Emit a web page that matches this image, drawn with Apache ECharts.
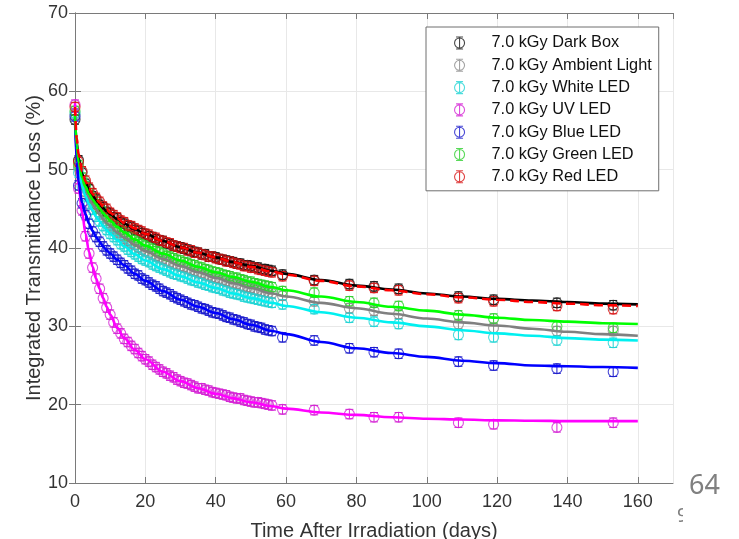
<!DOCTYPE html>
<html>
<head>
<meta charset="utf-8">
<title>Integrated Transmittance Loss vs Time After Irradiation</title>
<script src="https://cdn.jsdelivr.net/npm/echarts/dist/echarts.min.js"></script>
<style>
  html, body { margin: 0; padding: 0; background: #ffffff; }
  #chart { width: 739px; height: 539px; }
</style>
</head>
<body>
<div id="chart"></div>
<script>
// Measurement days (dense daily readings, then sparse follow-ups)
const days = [
  0, 1, 2, 3, 4, 5, 6, 7, 8, 9,
  10, 11, 12, 13, 14, 15, 16, 17, 18, 19,
  20, 21, 22, 23, 24, 25, 26, 27, 28, 29,
  30, 31, 32, 33, 34, 35, 36, 37, 38, 39,
  40, 41, 42, 43, 44, 45, 46, 47, 48, 49,
  50, 51, 52, 53, 54, 55, 56,
  59, 68, 78, 85, 92, 109, 119, 137, 153
];

// Measured integrated transmittance loss (%) per storage condition
const darkBox = [
  56.4, 51.2, 49.6, 48.2, 47.5, 46.6, 46.2, 45.5, 45.2, 44.6,
  44.4, 43.9, 43.8, 43.3, 43.1, 42.8, 42.7, 42.3, 42.2, 41.9,
  41.8, 41.5, 41.4, 41.1, 41.0, 40.9, 40.6, 40.5, 40.3, 40.2,
  40.1, 39.9, 39.8, 39.6, 39.5, 39.4, 39.2, 39.2, 38.9, 38.9,
  38.8, 38.6, 38.5, 38.4, 38.3, 38.2, 38.0, 38.0, 37.8, 37.8,
  37.7, 37.5, 37.5, 37.3, 37.3, 37.2, 37.1,
  36.6, 35.9, 35.4, 35.1, 34.8, 33.8, 33.4, 33.0, 32.7
];
const ambientLight = [
  57.0, 50.2, 48.6, 47.2, 46.5, 45.6, 45.0, 44.3, 43.8, 43.2,
  42.8, 42.4, 42.0, 41.6, 41.2, 40.9, 40.6, 40.4, 40.1, 39.8,
  39.6, 39.4, 39.2, 39.0, 38.8, 38.6, 38.4, 38.2, 38.0, 37.9,
  37.7, 37.6, 37.4, 37.2, 37.1, 36.9, 36.8, 36.6, 36.5, 36.3,
  36.2, 36.1, 35.9, 35.8, 35.6, 35.5, 35.4, 35.2, 35.1, 35.0,
  34.9, 34.7, 34.6, 34.5, 34.4, 34.3, 34.2,
  33.9, 33.2, 32.3, 32.0, 31.6, 30.3, 29.8, 29.4, 29.4
];
const whiteLed = [
  57.2, 49.6, 47.9, 46.6, 45.6, 44.9, 44.0, 43.4, 42.8, 42.3,
  41.8, 41.4, 41.0, 40.5, 40.2, 39.8, 39.5, 39.2, 38.9, 38.6,
  38.4, 38.2, 37.9, 37.7, 37.5, 37.3, 37.1, 36.9, 36.7, 36.6,
  36.4, 36.3, 36.1, 35.9, 35.8, 35.6, 35.5, 35.3, 35.2, 35.0,
  34.9, 34.8, 34.6, 34.5, 34.3, 34.2, 34.1, 34.0, 33.8, 33.7,
  33.6, 33.5, 33.4, 33.3, 33.2, 33.1, 33.0,
  32.8, 32.2, 31.1, 30.6, 30.3, 28.9, 28.6, 28.2, 27.9
];
const uvLed = [
  58.3, 47.6, 44.8, 41.5, 39.3, 37.5, 36.1, 34.8, 33.6, 32.4,
  31.5, 30.5, 29.7, 29.1, 28.4, 28.0, 27.5, 27.1, 26.6, 26.2,
  25.8, 25.5, 25.1, 24.8, 24.5, 24.2, 24.0, 23.7, 23.5, 23.2,
  23.0, 22.8, 22.7, 22.5, 22.3, 22.1, 22.1, 21.9, 21.8, 21.6,
  21.5, 21.4, 21.3, 21.2, 21.0, 20.9, 20.8, 20.8, 20.6, 20.5,
  20.4, 20.3, 20.3, 20.2, 20.1, 20.0, 19.9,
  19.4, 19.3, 18.8, 18.4, 18.4, 17.7, 17.5, 17.1, 17.7
];
const blueLed = [
  56.8, 48.0, 45.7, 44.2, 43.1, 42.1, 41.4, 40.8, 40.2, 39.7,
  39.3, 38.9, 38.5, 38.1, 37.8, 37.4, 37.1, 36.7, 36.5, 36.1,
  35.9, 35.6, 35.3, 35.1, 34.8, 34.5, 34.3, 34.1, 33.8, 33.6,
  33.4, 33.2, 33.0, 32.8, 32.7, 32.5, 32.3, 32.2, 32.0, 31.8,
  31.7, 31.6, 31.4, 31.2, 31.1, 30.9, 30.8, 30.6, 30.5, 30.3,
  30.2, 30.0, 29.9, 29.8, 29.6, 29.5, 29.4,
  28.6, 28.2, 27.2, 26.7, 26.5, 25.5, 25.0, 24.6, 24.2
];
const greenLed = [
  57.5, 50.6, 49.0, 47.9, 47.0, 46.3, 45.6, 45.0, 44.6, 44.0,
  43.5, 43.2, 42.7, 42.3, 42.0, 41.6, 41.4, 41.0, 40.8, 40.5,
  40.3, 40.1, 39.9, 39.6, 39.5, 39.3, 39.0, 38.9, 38.7, 38.5,
  38.4, 38.2, 38.1, 37.9, 37.8, 37.6, 37.5, 37.3, 37.2, 37.0,
  36.9, 36.8, 36.6, 36.5, 36.4, 36.2, 36.2, 36.0, 35.9, 35.7,
  35.7, 35.5, 35.4, 35.3, 35.2, 35.1, 35.0,
  34.5, 34.3, 33.2, 33.0, 32.6, 31.4, 31.0, 30.0, 29.8
];
const redLed = [
  58.0, 51.0, 49.8, 48.6, 47.7, 47.0, 46.4, 45.9, 45.3, 45.0,
  44.5, 44.2, 43.9, 43.5, 43.3, 42.9, 42.8, 42.5, 42.3, 42.1,
  41.8, 41.7, 41.4, 41.3, 41.0, 40.9, 40.7, 40.6, 40.3, 40.2,
  40.0, 40.0, 39.7, 39.7, 39.4, 39.4, 39.2, 39.1, 38.9, 38.9,
  38.7, 38.6, 38.5, 38.3, 38.3, 38.1, 38.0, 37.9, 37.7, 37.7,
  37.5, 37.5, 37.3, 37.2, 37.1, 37.0, 36.9,
  36.4, 35.8, 35.2, 34.9, 34.6, 33.6, 33.2, 32.6, 32.2
];

// Half-height of the error bars (%), one per condition
const errorHalf = [0.6, 0.6, 0.6, 0.6, 0.6, 0.6, 0.6];

// Recovery fit curves, sampled on a common day grid
const fitDays = [0, 0.5, 1, 2, 3, 4, 5, 6, 7, 8, 9, 10, 12, 14, 17, 20, 25, 30, 35, 40, 45, 50, 56, 60, 70, 80, 90, 100, 110, 120, 130, 140, 150, 160];
const fitDarkBox = [56.5, 53.5, 51.5, 49.5, 48.3, 47.4, 46.7, 46.1, 45.6, 45.1, 44.7, 44.3, 43.7, 43.1, 42.4, 41.8, 40.9, 40.1, 39.4, 38.8, 38.2, 37.7, 37.1, 36.7, 35.9, 35.2, 34.7, 34.2, 33.8, 33.5, 33.3, 33.1, 32.9, 32.8];
const fitAmbientLight = [57, 52.5, 50.5, 48.5, 47.3, 46.4, 45.6, 44.9, 44.3, 43.7, 43.2, 42.8, 42.0, 41.3, 40.4, 39.6, 38.6, 37.7, 36.9, 36.2, 35.5, 34.9, 34.2, 33.8, 33.0, 32.3, 31.6, 31.0, 30.5, 30.1, 29.7, 29.3, 29.0, 28.8];
const fitWhiteLed = [57, 52, 50, 47.9, 46.6, 45.6, 44.8, 44.0, 43.4, 42.8, 42.3, 41.8, 41.0, 40.2, 39.2, 38.4, 37.3, 36.4, 35.6, 34.9, 34.2, 33.6, 33.0, 32.6, 31.8, 31.1, 30.5, 30.0, 29.5, 29.1, 28.8, 28.5, 28.3, 28.2];
const fitUvLed = [58.5, 51, 48, 44.6, 41.8, 39.5, 37.6, 36.1, 34.8, 33.6, 32.5, 31.5, 29.8, 28.5, 27.0, 25.8, 24.2, 23.0, 22.1, 21.4, 20.8, 20.3, 19.8, 19.5, 19.0, 18.7, 18.4, 18.2, 18.1, 18.0, 17.95, 17.9, 17.9, 17.9];
const fitBlueLed = [56.5, 51, 48.5, 45.8, 44.3, 43.1, 42.2, 41.4, 40.8, 40.2, 39.7, 39.3, 38.5, 37.8, 36.7, 35.8, 34.5, 33.4, 32.5, 31.7, 30.9, 30.2, 29.4, 29.0, 28.0, 27.2, 26.6, 26.1, 25.6, 25.3, 25.0, 24.9, 24.8, 24.7];
const fitGreenLed = [57, 53, 51, 49, 47.8, 46.9, 46.2, 45.6, 45.0, 44.5, 44.0, 43.5, 42.7, 42.0, 41.1, 40.3, 39.3, 38.4, 37.6, 36.9, 36.3, 35.7, 35.0, 34.6, 33.8, 33.1, 32.5, 32.0, 31.5, 31.1, 30.8, 30.6, 30.4, 30.3];
const fitRedLed = [58, 54, 52, 49.8, 48.5, 47.6, 46.9, 46.3, 45.8, 45.3, 44.9, 44.5, 43.8, 43.2, 42.5, 41.8, 40.9, 40.1, 39.4, 38.8, 38.2, 37.6, 37.0, 36.6, 35.8, 35.1, 34.6, 34.1, 33.7, 33.4, 33.1, 32.9, 32.7, 32.6];

const seriesNames = [
  '7.0 kGy Dark Box', '7.0 kGy Ambient Light', '7.0 kGy White LED',
  '7.0 kGy UV LED', '7.0 kGy Blue LED', '7.0 kGy Green LED', '7.0 kGy Red LED'
];

// Styling for each condition: marker colour, fit colour, fit dash
const styles = [
  { marker: '#1a1a1a', line: '#000000', dash: 'solid' },
  { marker: '#8c8c8c', line: '#808080', dash: 'solid' },
  { marker: '#22d4d4', line: '#00f0f0', dash: 'solid' },
  { marker: '#d424d4', line: '#ff00ff', dash: 'solid' },
  { marker: '#1c1ccc', line: '#0000ff', dash: 'solid' },
  { marker: '#30d030', line: '#00ff00', dash: 'solid' },
  { marker: '#d81414', line: '#ff0000', dash: [9, 5] }
];

const measured = [darkBox, ambientLight, whiteLed, uvLed, blueLed, greenLed, redLed];
const fits = [fitDarkBox, fitAmbientLight, fitWhiteLed, fitUvLed, fitBlueLed, fitGreenLed, fitRedLed];

const FONT = '"Liberation Sans", Arial, Helvetica, sans-serif';
const TEXT_COLOR = '#333333';
const AXIS_COLOR = '#7a7a7a';

const series = [];

// Measured points: hollow circles with vertical error bars
measured.forEach(function (vals, k) {
  const st = styles[k];
  series.push({
    name: seriesNames[k],
    type: 'scatter',
    symbol: 'circle',
    symbolSize: 10,
    itemStyle: { color: 'rgba(0,0,0,0)', borderColor: st.marker, borderWidth: 1.1 },
    data: days.map(function (d, i) { return [d, vals[i]]; }),
    z: 2,
    silent: true
  });
  series.push({
    name: seriesNames[k] + ' error',
    type: 'custom',
    data: days.map(function (d, i) { return [d, vals[i], errorHalf[k]]; }),
    renderItem: function (params, api) {
      const x = api.value(0), y = api.value(1), e = api.value(2);
      const hi = api.coord([x, y + e]);
      const lo = api.coord([x, y - e]);
      const w = 4;
      const s = { stroke: st.marker, lineWidth: 1 };
      return {
        type: 'group',
        children: [
          { type: 'line', shape: { x1: hi[0], y1: hi[1], x2: lo[0], y2: lo[1] }, style: s },
          { type: 'line', shape: { x1: hi[0] - w, y1: hi[1], x2: hi[0] + w, y2: hi[1] }, style: s },
          { type: 'line', shape: { x1: lo[0] - w, y1: lo[1], x2: lo[0] + w, y2: lo[1] }, style: s }
        ]
      };
    },
    z: 2,
    silent: true
  });
});

// Fit curves drawn above the markers
fits.forEach(function (vals, k) {
  const st = styles[k];
  series.push({
    name: seriesNames[k] + ' fit',
    type: 'line',
    data: fitDays.map(function (d, i) { return [d, vals[i]]; }),
    showSymbol: false,
    smooth: 0.35,
    smoothMonotone: 'x',
    lineStyle: { color: st.line, width: 2.6, type: st.dash },
    z: 3 + k * 0.01,
    silent: true
  });
});

// Legend icon: a circle crossed by an error bar with caps
const legendIcon = 'path://M5,0L5,12M1.5,0L8.5,0M1.5,12L8.5,12M5,1A5,5,0,1,1,5,11A5,5,0,1,1,5,1Z';

const chart = echarts.init(document.getElementById('chart'), null, { renderer: 'canvas' });
chart.setOption({
  animation: false,
  backgroundColor: '#ffffff',
  textStyle: { fontFamily: FONT },
  grid: { left: 75, top: 13, width: 598, height: 470, containLabel: false, outerBoundsMode: 'none' },
  legend: {
    orient: 'vertical',
    left: 426,
    top: 27,
    padding: [8, 7, 6, 28],
    itemGap: 6.3,
    itemWidth: 10,
    itemHeight: 12,
    backgroundColor: '#ffffff',
    borderColor: '#6e6e6e',
    borderWidth: 1,
    selectedMode: false,
    textStyle: { fontFamily: FONT, fontSize: 16.3, color: '#111111', lineHeight: 16, padding: [0, 0, 0, 22] },
    data: seriesNames.map(function (n, k) {
      return {
        name: n,
        icon: legendIcon,
        itemStyle: { color: 'rgba(0,0,0,0)', borderColor: styles[k].marker, borderWidth: 1.1 }
      };
    })
  },
  xAxis: [
    {
      type: 'value', min: 0, max: 170, interval: 20, position: 'bottom',
      name: 'Time After Irradiation (days)', nameLocation: 'middle', nameGap: 38,
      nameMoveOverlap: false,
      nameTextStyle: { fontFamily: FONT, fontSize: 20, color: TEXT_COLOR },
      axisLine: { show: true, lineStyle: { color: AXIS_COLOR, width: 1 } },
      axisTick: { show: true, inside: true, length: 6, lineStyle: { color: AXIS_COLOR } },
      axisLabel: { fontFamily: FONT, fontSize: 18, color: TEXT_COLOR, margin: 10, showMaxLabel: false },
      splitLine: { show: true, lineStyle: { color: '#e8e8e8', width: 1 } }
    },
    {
      type: 'value', min: 0, max: 170, interval: 20, position: 'top',
      axisLine: { show: true, lineStyle: { color: AXIS_COLOR, width: 1 } },
      axisTick: { show: true, inside: true, length: 6, lineStyle: { color: AXIS_COLOR } },
      axisLabel: { show: false },
      splitLine: { show: false }
    }
  ],
  yAxis: [
    {
      type: 'value', min: 10, max: 70, interval: 10, position: 'left',
      name: 'Integrated Transmittance Loss (%)', nameLocation: 'middle', nameGap: 31,
      nameMoveOverlap: false,
      nameTextStyle: { fontFamily: FONT, fontSize: 20, color: TEXT_COLOR },
      axisLine: { show: true, lineStyle: { color: AXIS_COLOR, width: 1 } },
      axisTick: { show: true, inside: true, length: 6, lineStyle: { color: AXIS_COLOR } },
      axisLabel: { fontFamily: FONT, fontSize: 18, color: TEXT_COLOR, margin: 7 },
      splitLine: { show: true, lineStyle: { color: '#e8e8e8', width: 1 } }
    },
    {
      type: 'value', min: 10, max: 70, interval: 10, position: 'right',
      axisLine: { show: true, lineStyle: { color: AXIS_COLOR, width: 1 } },
      axisTick: { show: true, inside: true, length: 6, lineStyle: { color: AXIS_COLOR } },
      axisLabel: { show: false },
      splitLine: { show: false }
    }
  ],
  series: series,
  graphic: [
    {
      type: 'text', left: 689, top: 473, z: 10,
      style: { text: '64', font: '27px "Noto Sans", "Open Sans", sans-serif', fill: '#808080' }
    },
    {
      type: 'text', left: 677, top: 507, z: 10,
      style: { text: '9', font: '19px "Noto Sans", sans-serif', fill: '#808080' }
    },
    {
      type: 'rect', shape: { x: 683, y: 500, width: 40, height: 39 }, z: 11,
      style: { fill: '#ffffff' }
    }
  ]
});
</script>
</body>
</html>
